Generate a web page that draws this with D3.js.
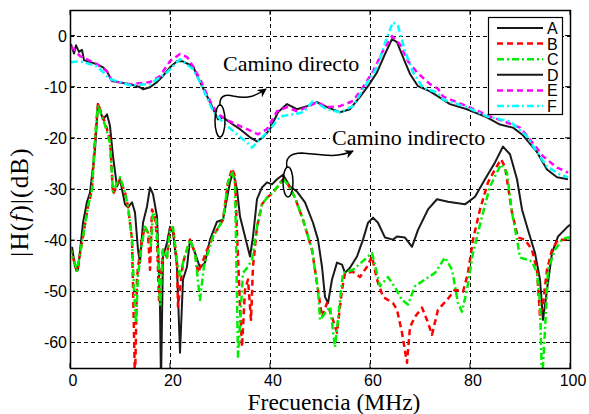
<!DOCTYPE html>
<html>
<head>
<meta charset="utf-8">
<script src="https://cdn.jsdelivr.net/npm/d3@7"></script>
<style>
  body { margin: 0; background: #fff; }
  svg { display: block; }
</style>
</head>
<body>
<div id="main-container"></div>
<script>
// DATA  [frequency MHz, |H| dB]
const seriesA = [[0.4,-41.3],[1,-45.2],[1.6,-45.8],[2.6,-36.6],[3.4,-32.5],[4,-30.7],[5,-22.3],[5.6,-13.4],[6.6,-16.4],[7.4,-15.4],[8,-17.7],[8.6,-23.6],[9.4,-29.5],[10,-28.1],[11,-33],[11.6,-33.6],[12.4,-32.6],[13,-34.6],[13.6,-41.9],[14,-44.4],[14.6,-36.6],[15.4,-33.4],[16,-29.7],[16.6,-31],[17.4,-35.4],[17.6,-40.5],[18,-53],[18.2,-68],[18.6,-43.2],[19.4,-40.5],[20,-37.4],[20.6,-38.5],[21.4,-45.2],[22,-62],[22.6,-47.7],[23.4,-45.2],[24,-39.9],[25,-42.5],[26,-45.4],[27,-44.4],[28,-39.9],[29.4,-36.4],[30.6,-36],[32,-28.7],[32.6,-26.6],[33.4,-30.1],[34,-35.4],[35,-39.3],[36,-43.2],[36.6,-39.3],[37.4,-32],[38.4,-29.7],[39.4,-28.7],[40.4,-29.1],[41.4,-28.1],[42.6,-27.2],[44,-29.5],[45.4,-30.5],[47,-32.6],[48.6,-36.6],[49.6,-39.9],[50.4,-45.2],[51,-51.1],[51.6,-52.3],[52.4,-47.7],[53.4,-44.4],[54.4,-44.8],[55,-46.4],[56,-45.4],[57.4,-43.2],[58.6,-39.9],[59.6,-36.6],[60.6,-35.6],[61.6,-36.6],[63,-39.5],[64.6,-39.9],[65.4,-39.3],[67,-39.5],[68.4,-41.3],[69.6,-38],[71.6,-34],[73.4,-32],[75.6,-32.5],[79,-33],[81,-31.5],[83,-28.1],[85,-24.8],[86.6,-21.7],[88,-23.2],[89.4,-28.1],[90.4,-34],[91.6,-38],[93,-42.5],[94,-47.7],[94.6,-55.6],[95.4,-49.7],[96.4,-42.5],[97.6,-39.3],[99.4,-37.5],[100,-37]];

const seriesB = [[0,-41.3],[1.4,-46.2],[2.6,-39.3],[3.6,-33.4],[4.4,-30.1],[5,-20.3],[5.6,-13.2],[6.2,-15],[7,-17],[8,-20.3],[8.6,-31],[10,-28.1],[11,-30.7],[11.6,-33.4],[12.4,-39.9],[12.6,-49],[13,-68],[13.4,-47.7],[13.6,-45.2],[14.4,-39.9],[15,-37.4],[15.6,-38.5],[16,-45.8],[16.4,-34],[17,-35.4],[17.4,-39.9],[17.8,-51.7],[18.6,-41.9],[19.4,-43.4],[20,-37.9],[20.6,-37.5],[21.4,-44.4],[21.6,-53],[22.6,-44.4],[24,-39.9],[25,-42.5],[25.6,-46.4],[26.6,-44],[27.4,-41.9],[28.6,-39.3],[30.6,-36],[31.6,-28.7],[32.4,-26],[33,-27.5],[33.4,-38.5],[34,-53],[34.4,-60.9],[35,-49.7],[35.6,-47.7],[36.2,-55.6],[36.6,-45.2],[37.4,-37.4],[38.4,-33],[39.4,-31.7],[40.6,-30.7],[42.6,-28.1],[43.6,-29.1],[45,-31.7],[46.6,-36],[48.4,-41.9],[49.6,-49.7],[50.4,-55],[51.4,-52.3],[52.4,-55],[53.4,-58.1],[54.4,-49.7],[55,-46.4],[56.6,-46.2],[58,-47.2],[59.4,-45.2],[60.4,-43.2],[61.4,-47.7],[62.6,-51.1],[64.6,-52.3],[65.4,-53.6],[66.4,-58.1],[67.4,-64],[68,-57],[69,-55],[70.4,-53.2],[71.4,-55.6],[72.4,-58.5],[73.6,-53.6],[75.4,-51.7],[77,-49.7],[78.6,-50.1],[79.6,-46.4],[80.6,-39.9],[82,-34],[83.6,-28.7],[85,-26.2],[86.2,-24.2],[87,-25.6],[88.4,-34.6],[89.6,-39.5],[91,-39.9],[92.4,-41.9],[93.4,-45.8],[94,-55],[94.6,-52.3],[95.4,-45.8],[96.4,-41.9],[97.6,-39.9],[99.4,-39.9],[100,-39.9]];

const seriesC = [[0,-41.3],[1.4,-46],[2.6,-39.3],[3.6,-33.4],[4.4,-30.1],[5,-20.3],[5.6,-13.6],[6.2,-15.4],[7,-17.5],[8,-21],[8.6,-30.5],[10,-27.7],[11,-30.7],[11.6,-33.4],[12.4,-39.9],[12.8,-50],[13.2,-56.2],[13.6,-47],[14.4,-40.5],[15,-37.4],[15.6,-38.5],[16.2,-41],[16.6,-34.5],[17.2,-36],[17.6,-42],[18,-52.6],[18.6,-41.9],[19.4,-43.4],[20,-37.9],[20.6,-37.5],[21.4,-44.4],[22,-47],[22.6,-44.4],[24,-39.9],[25,-42.5],[26,-51.7],[26.8,-45],[28.6,-39.3],[30.6,-36],[31.6,-28.7],[32.4,-26.5],[33,-29],[33.2,-40],[33.6,-62.8],[34.6,-46.4],[35.6,-45.2],[36.4,-43.8],[37.4,-37.4],[38.4,-33],[39.4,-31.7],[40.6,-30.7],[42.6,-28.1],[43.6,-29.1],[45,-31.7],[46.6,-36],[48.4,-41.9],[49.6,-49.7],[50,-55.6],[52,-53],[53,-60.9],[54.6,-46.4],[56.6,-45.8],[59.4,-43.4],[60.4,-42.5],[62,-49],[63.6,-47.2],[65,-49.2],[66.4,-51.7],[67.6,-52.6],[69,-49],[71,-47.7],[73,-46.4],[75,-43.4],[76.4,-45.8],[77.6,-52.3],[78.4,-54],[79.4,-49.7],[80.6,-42.5],[82.4,-35.4],[84,-29.5],[86.2,-25.2],[87.4,-26.8],[88.4,-34.6],[89.4,-39.9],[90,-43.4],[91.4,-43.8],[92.4,-44.2],[93.4,-46.4],[94,-52.3],[94.4,-68],[95,-57.5],[95.6,-45.8],[97,-41.9],[98.4,-39.9],[99.4,-39.5],[100,-39.5]];

const seriesD = [[0.2,-1.7],[0.8,-3.5],[1.2,-1.9],[1.8,-3.2],[2.4,-2.8],[2.8,-4.8],[3.4,-5],[5.4,-5.6],[6.6,-6.2],[7.4,-7],[8.4,-8.9],[9.6,-9.1],[12,-9.5],[14,-10.1],[14.6,-10.5],[16,-10.1],[17.4,-9.1],[18.6,-7.9],[20,-6.2],[21.4,-5],[22.4,-5],[24.6,-6],[26,-9.1],[28,-13],[29.6,-16.4],[30.6,-16],[32,-17],[34,-18.3],[36,-19.9],[37.4,-20.7],[38.6,-19.9],[40,-18.3],[41.6,-15],[43.4,-13.4],[45.4,-14.4],[47.4,-13.8],[49.4,-13],[51.4,-14],[54,-15],[56,-14.4],[58,-12],[59.6,-9.9],[61.4,-7.2],[63,-3.6],[64.4,-0.7],[65.4,-1.3],[66.6,-4.2],[68,-7.5],[69.6,-9.9],[72,-10.9],[73.6,-11.9],[76,-13.4],[79.4,-14.4],[83.4,-16],[86,-17.4],[88.6,-18],[90.6,-19.5],[93.4,-22.8],[95.4,-26.2],[97.4,-27.7],[99.6,-28.1]];

const seriesE = [[0.2,-2.1],[2,-4],[5.4,-5.6],[7.4,-7],[8.4,-8.9],[12,-9.5],[16,-9.1],[18,-7.9],[20,-5],[22,-3.6],[23.4,-4.2],[24.6,-6],[26,-8.5],[28,-12.8],[29.6,-15.4],[32,-16.8],[35.4,-18.3],[37.6,-19.3],[39.4,-18.3],[41.4,-14.8],[43.4,-14],[45.4,-14.8],[47.4,-14],[49.4,-13],[51.4,-14],[54,-13.8],[56.6,-12.8],[58.6,-10.1],[60.6,-7],[62.6,-3],[64.4,-0.1],[66,-1.7],[67.6,-5],[69.4,-7.2],[72,-9.5],[73.6,-10.4],[74.6,-11.9],[79.4,-13.8],[84,-15.8],[87.4,-17],[90,-18],[92,-20.3],[94.6,-23.6],[97.4,-25.8],[99.6,-26.8]];

const seriesF = [[0.2,-5.2],[2,-5],[5.4,-6],[8,-8.5],[12,-9.7],[16,-9.5],[19.4,-7.2],[22,-4.6],[24.6,-6.6],[26,-9.1],[28.6,-14.8],[30.6,-17],[33.4,-19.3],[35.4,-20.9],[36.4,-21.9],[37.6,-20.7],[40,-18.3],[42,-15.8],[44.6,-15.4],[46.6,-15],[48.6,-12.8],[51.4,-14.4],[54,-15],[56.6,-13.8],[58.6,-10.5],[61.4,-6.2],[63.4,-0.3],[64.6,2.6],[65.6,1.9],[67,-3],[68.6,-7.2],[70.6,-10.2],[73.4,-11.1],[74.6,-12.5],[79.4,-14],[83.4,-15.8],[88,-16.8],[91.4,-19.7],[93.4,-22.8],[95.4,-25.6],[98,-27.2],[99.6,-27.7]];

const seriesNames = ["A", "B", "C", "D", "E", "F"];
const xTicks = [0, 20, 40, 60, 80, 100];
const yTicks = [0, -10, -20, -30, -40, -50, -60];

// STYLE per series
const seriesStyle = {
    A: {color: "#1a1a1a", dash: null, width: 2},
    B: {color: "#ff0000", dash: "6,4", width: 2.5},
    C: {color: "#00ee00", dash: "7,3,2,3", width: 2.5},
    D: {color: "#1a1a1a", dash: null, width: 2},
    E: {color: "#ff00ff", dash: "6,4", width: 2.5},
    F: {color: "#00ffff", dash: "7,3,2,3", width: 2.5}
};
const seriesData = {A: seriesA, B: seriesB, C: seriesC, D: seriesD, E: seriesE, F: seriesF};

// DRAWING SETUP
const W = 589, H = 414;
const plotLeft = 70, plotRight = 570, plotTop = 10, plotBottom = 368;

const x = d3.scaleLinear().domain([0, 100]).range([plotLeft, plotRight]);
const y = d3.scaleLinear().domain([-65, 5]).range([plotBottom, plotTop]);

const svg = d3.select("#main-container").append("svg")
    .attr("width", W)
    .attr("height", H);

const defs = svg.append("defs");
defs.append("clipPath").attr("id", "plot-clip")
    .append("rect")
    .attr("x", plotLeft).attr("y", plotTop)
    .attr("width", plotRight - plotLeft).attr("height", plotBottom - plotTop);

defs.append("marker")
    .attr("id", "arrow")
    .attr("viewBox", "0 0 10 10")
    .attr("refX", 9).attr("refY", 5)
    .attr("markerWidth", 9).attr("markerHeight", 9)
    .attr("markerUnits", "userSpaceOnUse")
    .attr("orient", "auto")
    .append("path")
    .attr("d", "M0,0 L10,5 L0,10 L3,5 Z")
    .attr("fill", "#000")
    .attr("stroke", "none");

// grid
const grid = svg.append("g")
    .attr("stroke", "#000")
    .attr("stroke-width", 1)
    .attr("stroke-dasharray", "4,3");

grid.selectAll(".vgrid")
    .data(xTicks.filter(d => d > 0 && d < 100))
    .enter().append("line")
    .attr("x1", d => x(d) + 0.5).attr("x2", d => x(d) + 0.5)
    .attr("y1", plotTop).attr("y2", plotBottom);

grid.selectAll(".hgrid")
    .data(yTicks)
    .enter().append("line")
    .attr("x1", plotLeft).attr("x2", plotRight)
    .attr("y1", d => Math.round(y(d)) + 0.5).attr("y2", d => Math.round(y(d)) + 0.5);

// text labels with white background (they hide the grid behind them)
function boxedText(str, tx, ty) {
    const g = svg.append("g");
    const t = g.append("text")
        .attr("x", tx).attr("y", ty)
        .attr("font-family", "Liberation Serif, Times New Roman, serif")
        .attr("font-size", 22)
        .attr("fill", "#000")
        .text(str);
    const bb = t.node().getBBox();
    g.insert("rect", "text")
        .attr("x", bb.x - 2).attr("y", bb.y + 1)
        .attr("width", bb.width + 4).attr("height", bb.height - 2)
        .attr("fill", "#fff");
}
boxedText("Camino directo", 223, 71);
boxedText("Camino indirecto", 332, 145);

// lines
const line = d3.line()
    .x(d => x(d[0]))
    .y(d => y(d[1]));

const plot = svg.append("g").attr("clip-path", "url(#plot-clip)");

for (let name of seriesNames) {
    const st = seriesStyle[name];
    plot.append("path")
        .datum(seriesData[name])
        .attr("fill", "none")
        .attr("stroke", st.color)
        .attr("stroke-width", st.width)
        .attr("stroke-dasharray", st.dash)
        .attr("stroke-linejoin", "round")
        .attr("d", line);
}

// annotations: ellipses + curved arrows
const ann = svg.append("g").attr("fill", "none").attr("stroke", "#000").attr("stroke-width", 1.5);
ann.append("ellipse").attr("cx", 220).attr("cy", 121).attr("rx", 5).attr("ry", 16);
ann.append("path")
    .attr("d", "M220,106 C219,96 225,94 233,96 C243,98 252,99 266,89")
    .attr("marker-end", "url(#arrow)");
ann.append("ellipse").attr("cx", 288).attr("cy", 182).attr("rx", 5).attr("ry", 15);
ann.append("path")
    .attr("d", "M287,168 C285,158 290,153 302,153 C318,154 335,159 353,151")
    .attr("marker-end", "url(#arrow)");

// axes box and ticks
svg.append("rect")
    .attr("x", plotLeft + 0.5).attr("y", plotTop + 0.5)
    .attr("width", plotRight - plotLeft).attr("height", plotBottom - plotTop)
    .attr("fill", "none")
    .attr("stroke", "#000")
    .attr("stroke-width", 1.5);

const ticks = svg.append("g").attr("stroke", "#000").attr("stroke-width", 1);
const tl = 5;
for (let v of xTicks) {
    ticks.append("line").attr("x1", x(v)).attr("x2", x(v)).attr("y1", plotBottom).attr("y2", plotBottom - tl);
    ticks.append("line").attr("x1", x(v)).attr("x2", x(v)).attr("y1", plotTop).attr("y2", plotTop + tl);
}
for (let v of yTicks) {
    ticks.append("line").attr("x1", plotLeft).attr("x2", plotLeft + tl).attr("y1", y(v)).attr("y2", y(v));
    ticks.append("line").attr("x1", plotRight).attr("x2", plotRight - tl).attr("y1", y(v)).attr("y2", y(v));
}

const tickFont = "Liberation Sans, Arial, sans-serif";
svg.selectAll(".xlab")
    .data(xTicks)
    .enter().append("text")
    .attr("x", d => x(d) + 3)
    .attr("y", 386)
    .attr("text-anchor", "middle")
    .attr("font-family", tickFont)
    .attr("font-size", 16)
    .text(d => d);

svg.selectAll(".ylab")
    .data(yTicks)
    .enter().append("text")
    .attr("x", 67)
    .attr("y", d => y(d) + 6)
    .attr("text-anchor", "end")
    .attr("font-family", tickFont)
    .attr("font-size", 16)
    .text(d => d);

// axis titles
svg.append("text")
    .attr("x", 334).attr("y", 410)
    .attr("text-anchor", "middle")
    .attr("font-family", "Liberation Serif, Times New Roman, serif")
    .attr("font-size", 23.5)
    .text("Frecuencia (MHz)");

const ylab = svg.append("text")
    .attr("transform", "translate(28,202) rotate(-90)")
    .attr("text-anchor", "middle")
    .attr("font-family", "Liberation Serif, Times New Roman, serif")
    .attr("font-size", 25)
    .attr("letter-spacing", 1.2);
ylab.append("tspan").text("|H(");
ylab.append("tspan").attr("font-style", "italic").text("f");
ylab.append("tspan").text(")|(dB)");

// legend
const lg = svg.append("g");
lg.append("rect")
    .attr("x", 488.5).attr("y", 17.5)
    .attr("width", 74).attr("height", 97)
    .attr("fill", "#fff")
    .attr("stroke", "#000")
    .attr("stroke-width", 1.2);

seriesNames.forEach((name, i) => {
    const st = seriesStyle[name];
    const ly = 28 + i * 15.6;
    lg.append("line")
        .attr("x1", 497).attr("x2", 543)
        .attr("y1", ly).attr("y2", ly)
        .attr("stroke", st.color)
        .attr("stroke-width", st.width)
        .attr("stroke-dasharray", st.dash);
    lg.append("text")
        .attr("x", 547).attr("y", ly + 6)
        .attr("font-family", tickFont)
        .attr("font-size", 16)
        .text(name);
});
</script>
</body>
</html>
